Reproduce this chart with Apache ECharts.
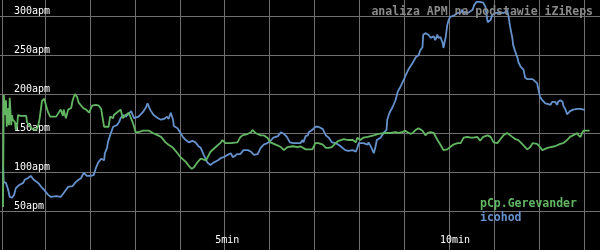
<!DOCTYPE html>
<html>
<head>
<meta charset="utf-8">
<script src="https://cdn.jsdelivr.net/npm/echarts@6/dist/echarts.min.js"></script>
<style>
html,body{margin:0;padding:0;background:#000;}
#chart{width:600px;height:250px;}
</style>
</head>
<body>
<div id="chart"></div>
<script>
// time in seconds, value in APM
const seriesNames = ['pCp.Gerevander', 'icohod'];
const seriesColors = ['#62b662', '#6592cd'];
const titleText = 'analiza APM na podstawie iZiReps';
const xTickLabels = {300: '5min', 600: '10min'};
const yTickValues = [50, 100, 150, 200, 250, 300];

const gerevander = [[4,55],[5,199],[7,173],[8,192],[9,158],[11,182],[12,160],[13,195],[15,160],[16,173],[17,167],[20,164],[21,154],[23,160],[24,173],[27,172],[31,172],[35,172],[36,164],[39,160],[43,155],[48,154],[51,159],[53,169],[56,191],[59,194],[61,187],[64,177],[67,171],[71,171],[75,171],[77,173],[81,180],[84,172],[85,180],[88,169],[91,180],[95,182],[97,192],[100,200],[103,196],[105,189],[111,182],[115,180],[119,176],[123,185],[128,186],[132,185],[135,181],[139,158],[145,158],[147,171],[151,169],[152,173],[157,177],[161,180],[164,169],[168,173],[172,176],[177,164],[179,158],[181,151],[185,151],[191,153],[199,153],[204,150],[211,147],[215,145],[217,146],[221,138],[225,135],[231,131],[237,124],[241,119],[248,113],[252,108],[256,104],[259,106],[264,113],[268,117],[275,115],[281,126],[288,132],[295,138],[297,141],[301,137],[308,137],[317,138],[321,145],[324,147],[331,149],[335,151],[337,154],[341,150],[348,147],[352,147],[357,144],[361,138],[368,135],[375,132],[379,128],[384,132],[391,133],[397,132],[401,133],[408,129],[412,129],[417,129],[421,137],[425,137],[431,135],[435,131],[439,131],[443,132],[448,137],[452,140],[459,142],[465,141],[471,141],[475,138],[477,144],[481,141],[485,144],[491,145],[495,146],[499,147],[505,149],[515,150],[521,150],[528,151],[532,150],[537,151],[541,153],[544,151],[548,149],[551,150],[555,154],[559,156],[561,156],[564,153],[568,147],[571,150],[575,151],[579,150],[584,141],[588,135],[592,128],[597,129],[601,132],[605,135],[611,137],[615,137],[619,144],[624,145],[628,144],[632,144],[637,145],[641,140],[645,145],[651,147],[655,145],[659,138],[664,137],[668,142],[672,147],[677,150],[679,149],[684,145],[688,142],[692,141],[697,136],[701,132],[704,129],[708,132],[711,137],[717,136],[721,132],[724,128],[731,131],[735,132],[741,133],[748,136],[752,137],[757,141],[761,145],[765,147],[771,150],[772,147],[775,145],[777,150],[779,153],[784,153],[787,153]];

const icohod = [[4,109],[5,87],[8,86],[11,77],[13,68],[16,67],[19,71],[21,79],[25,83],[31,86],[33,90],[37,92],[41,95],[45,90],[51,86],[55,81],[59,77],[64,71],[68,68],[75,69],[81,68],[85,73],[91,81],[97,82],[101,87],[105,90],[108,92],[112,99],[116,95],[121,95],[125,96],[128,105],[131,112],[135,117],[139,115],[140,124],[143,131],[144,138],[147,147],[151,158],[152,160],[156,160],[159,164],[161,169],[165,173],[168,171],[171,174],[175,178],[177,176],[179,169],[181,167],[185,171],[191,177],[195,183],[197,188],[199,183],[201,179],[205,173],[211,169],[215,167],[219,168],[223,171],[225,168],[228,176],[231,167],[232,159],[237,156],[241,150],[244,145],[248,141],[252,138],[257,140],[261,138],[265,133],[268,131],[272,122],[277,112],[281,109],[285,112],[291,115],[295,118],[299,119],[304,122],[308,124],[311,119],[312,118],[317,123],[321,123],[325,128],[331,128],[335,126],[339,122],[344,123],[348,131],[352,135],[357,137],[361,140],[365,144],[371,146],[375,151],[379,149],[383,145],[387,138],[392,137],[397,137],[401,137],[404,141],[405,138],[408,146],[411,147],[412,151],[417,154],[421,158],[425,158],[431,155],[435,147],[439,144],[443,138],[448,137],[452,135],[457,131],[461,128],[465,127],[471,128],[475,126],[477,131],[479,137],[481,138],[485,137],[491,135],[492,138],[496,131],[499,124],[501,131],[503,141],[508,144],[512,150],[516,154],[517,167],[520,176],[524,183],[528,192],[531,203],[535,210],[539,218],[541,223],[545,231],[551,240],[555,247],[559,250],[561,256],[564,260],[565,276],[568,278],[572,276],[575,272],[579,274],[581,269],[584,276],[585,272],[588,273],[591,265],[592,259],[595,273],[597,288],[599,295],[601,299],[605,300],[611,304],[615,304],[617,308],[619,304],[625,304],[631,308],[633,314],[636,318],[641,318],[645,317],[648,312],[651,292],[655,295],[657,301],[661,304],[668,304],[672,304],[675,305],[677,308],[679,299],[681,286],[684,272],[685,263],[688,254],[691,246],[692,241],[695,235],[697,236],[699,231],[701,221],[704,219],[708,219],[711,219],[713,221],[717,214],[719,205],[721,196],[724,192],[728,188],[732,187],[735,186],[737,190],[739,192],[741,190],[744,186],[745,190],[748,192],[751,190],[752,185],[755,180],[757,174],[759,173],[761,178],[765,180],[771,181],[775,181],[779,180],[781,180]];

const mono = '"DejaVu Sans Mono", "Liberation Mono", monospace';
const chart = echarts.init(document.getElementById('chart'), null, {renderer: 'canvas'});
chart.setOption({
  backgroundColor: '#000',
  animation: false,
  title: {
    text: titleText,
    right: 2, top: 1,
    textStyle: {color: '#8a8a8a', fontSize: 11.5, fontFamily: mono, fontWeight: 'bold'}
  },
  legend: {
    orient: 'vertical',
    left: 470, top: 193,
    icon: 'none', itemWidth: 0, itemHeight: 0, itemGap: 2,
    textStyle: {fontSize: 11.5, fontFamily: mono, fontWeight: 'bold'},
    data: seriesNames.map((n, i) => ({name: n, textStyle: {color: seriesColors[i]}}))
  },
  grid: {left: -1, right: 0, top: 0, bottom: 0, containLabel: false},
  xAxis: {
    type: 'value', min: 0, max: 801, interval: 60,
    axisLine: {show: false}, axisTick: {show: false},
    splitLine: {show: true, showMinLine: false, showMaxLine: false, lineStyle: {color: '#707070', width: 1}},
    axisLabel: {
      inside: true, margin: 5, color: '#fff', fontSize: 10, fontFamily: mono,
      showMinLabel: false, showMaxLabel: false,
      formatter: v => xTickLabels[v] ? '{a|' + xTickLabels[v] + '}' : '',
      rich: {a: {width: 19, align: 'left', color: '#fff', fontSize: 10, fontFamily: mono}}
    }
  },
  yAxis: {
    type: 'value', min: 0, max: 320.5, interval: 50,
    axisLine: {show: true, onZero: false, lineStyle: {color: '#707070', width: 1}},
    offset: -2,
    axisTick: {show: false},
    splitLine: {show: true, showMaxLine: false, lineStyle: {color: '#707070', width: 1}},
    axisLabel: {
      inside: true, margin: 12, color: '#fff', fontSize: 10, fontFamily: mono,
      verticalAlign: 'bottom', lineHeight: 10,
      showMaxLabel: false,
      formatter: v => yTickValues.indexOf(v) >= 0 ? v + 'apm' : ''
    }
  },
  series: [
    {name: seriesNames[0], type: 'line', data: gerevander, showSymbol: false, symbol: 'none',
     lineStyle: {color: seriesColors[0], width: 1.8}, itemStyle: {color: seriesColors[0]}, z: 3},
    {name: seriesNames[1], type: 'line', data: icohod, showSymbol: false, symbol: 'none',
     lineStyle: {color: seriesColors[1], width: 1.8}, itemStyle: {color: seriesColors[1]}, z: 2}
  ]
});
</script>
</body>
</html>
